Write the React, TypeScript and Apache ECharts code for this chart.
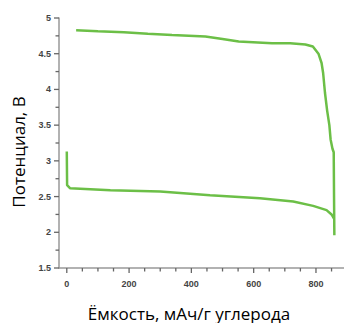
import React, { useEffect, useRef } from "react";
import * as echarts from "echarts";

const chargeCurve: [number, number][] = [
  [30, 4.83], [100, 4.815], [183, 4.8], [260, 4.78], [338, 4.762], [445, 4.74],
  [500, 4.705], [552, 4.67], [659, 4.646], [717, 4.645], [766, 4.63], [790, 4.6],
  [808, 4.5], [818, 4.37], [823, 4.23], [829, 3.95], [836, 3.7], [843, 3.5],
  [847, 3.3], [853, 3.17], [857, 3.12], [858, 2.5], [859, 1.96],
];
const dischargeCurve: [number, number][] = [
  [0, 3.13], [1, 2.66], [11, 2.615], [140, 2.59], [300, 2.57], [460, 2.52],
  [620, 2.475], [727, 2.43], [791, 2.37], [834, 2.31], [850, 2.25], [858, 2.19],
];
const xLabels = [0, 200, 400, 600, 800];
const xTicks = [0, 50, 100, 150, 200, 250, 300, 350, 400, 450, 500, 550, 600, 650, 700, 750, 800, 850];
const yLabels = [1.5, 2, 2.5, 3, 3.5, 4, 4.5, 5];
const yTicks = [1.5, 1.75, 2, 2.25, 2.5, 2.75, 3, 3.25, 3.5, 3.75, 4, 4.25, 4.5, 4.75, 5];
const xTitle = "Ёмкость, мАч/г углерода";
const yTitle = "Потенциал, В";

const X_MIN = -25;
const X_MAX = 890;
const Y_MIN = 1.5;
const Y_MAX = 5;

export default function App() {
  const ref = useRef<HTMLDivElement>(null);
  useEffect(() => {
    if (!ref.current) return;
    const chart = echarts.init(ref.current, null, { renderer: "svg" });
    const green = "#6cbf47";
    const tickColor = "#666";
    const labelStyle = { fontSize: 9, fontWeight: "bold" as const, color: "#444", fontFamily: "Liberation Sans" };
    const titles = [
      {
        type: "text",
        x: 189,
        y: 313,
        style: {
          text: xTitle,
          fontSize: 17,
          fontFamily: "Open Sans",
          fill: "#000",
          align: "center",
          verticalAlign: "middle",
        },
      },
      {
        type: "text",
        x: 18,
        y: 152,
        rotation: Math.PI / 2,
        style: {
          text: yTitle,
          fontSize: 17,
          fontFamily: "Open Sans",
          fill: "#000",
          align: "center",
          verticalAlign: "middle",
        },
      },
    ];
    chart.setOption({
      animation: false,
      backgroundColor: "#fff",
      grid: { left: 59, right: 0, top: 18, bottom: 55 },
      xAxis: {
        type: "value",
        min: X_MIN,
        max: X_MAX,
        axisLine: { show: true, onZero: false, lineStyle: { color: "#999", width: 1.5 } },
        axisTick: { show: false },
        axisLabel: { customValues: xLabels, margin: 11, ...labelStyle },
        splitLine: { show: false },
      },
      yAxis: {
        type: "value",
        min: Y_MIN,
        max: Y_MAX,
        axisLine: { show: true, onZero: false, lineStyle: { color: "#999", width: 1.5 } },
        axisTick: { show: false },
        axisLabel: { customValues: yLabels, margin: 8, ...labelStyle },
        splitLine: { show: false },
      },
      graphic: titles,
      series: [
        {
          type: "line",
          data: chargeCurve,
          showSymbol: false,
          lineStyle: { color: green, width: 2.5 },
          itemStyle: { color: green },
        },
        {
          type: "line",
          data: dischargeCurve,
          showSymbol: false,
          lineStyle: { color: green, width: 2.5 },
          itemStyle: { color: green },
        },
      ],
    });
    const ticks: any[] = [];
    xTicks.forEach((v) => {
      const p = chart.convertToPixel({ gridIndex: 0 }, [v, Y_MIN]) as number[];
      const len = xLabels.includes(v) ? 5 : 3.5;
      ticks.push({
        type: "line",
        silent: true,
        z: 10,
        shape: { x1: p[0], y1: p[1], x2: p[0], y2: p[1] + len },
        style: { stroke: tickColor, lineWidth: 1.3 },
      });
    });
    yTicks.forEach((v) => {
      const p = chart.convertToPixel({ gridIndex: 0 }, [X_MIN, v]) as number[];
      const len = yLabels.includes(v) ? 5 : 3.5;
      ticks.push({
        type: "line",
        silent: true,
        z: 10,
        shape: { x1: p[0] - len, y1: p[1], x2: p[0], y2: p[1] },
        style: { stroke: tickColor, lineWidth: 1.3 },
      });
    });
    chart.setOption({ graphic: [...titles, ...ticks] });
    return () => chart.dispose();
  }, []);
  return <div ref={ref} style={{ width: 344, height: 323, position: "absolute", left: 0, top: 0 }} />;
}
